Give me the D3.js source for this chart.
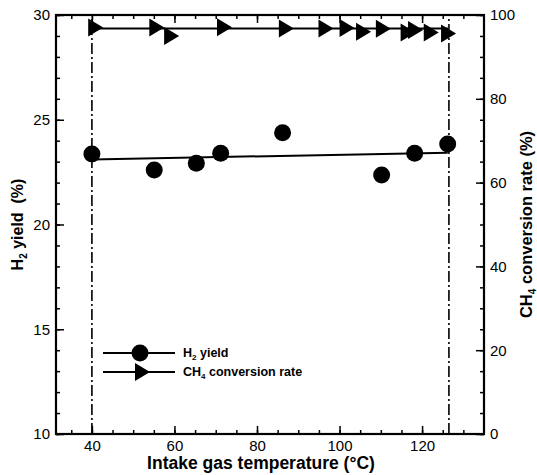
<!DOCTYPE html>
<html>
<head>
<meta charset="utf-8">
<script src="https://cdn.jsdelivr.net/npm/d3@7"></script>
<style>
  body { margin: 0; background: #fff; }
  text { font-family: "Liberation Sans", Arial, sans-serif; fill: #000; }
</style>
</head>
<body>
<div id="chart"></div>
<script>
// data
const h2Temp = [40, 55.1, 65.3, 71.2, 86.2, 110.2, 118.2, 126.2];
const h2Yield = [23.37, 22.6, 22.92, 23.4, 24.38, 22.36, 23.4, 23.84];
const ch4Temp = [40.8, 55.6, 59.2, 72, 87, 96.6, 101.7, 105.7, 110.5, 116.5, 118.3, 122.1, 126.3];
const ch4Conv = [97.0, 97.0, 95.0, 97.1, 96.8, 96.8, 96.9, 96.0, 96.7, 95.8, 96.4, 95.8, 95.6];
const h2FitTemp = [40, 126.2], h2FitVal = [23.1, 23.43];
const ch4FitTemp = [40, 126.3], ch4FitVal = [96.8, 96.8];
const limitTemps = [40, 126.5];
const xTicks = [40, 60, 80, 100, 120];
const yLeftTicks = [10, 15, 20, 25, 30];
const yRightTicks = [0, 20, 40, 60, 80, 100];

const W = 537, H = 475;
const plot = {left: 56, right: 484, top: 15, bottom: 434};

const svg = d3.select('#chart').append('svg')
    .attr('width', W).attr('height', H);

const x = d3.scaleLinear().domain([31.3, 135]).range([plot.left, plot.right]);
const yL = d3.scaleLinear().domain([10, 30]).range([plot.bottom, plot.top]);
const yR = d3.scaleLinear().domain([0, 100]).range([plot.bottom, plot.top]);

function styleAxis(g, labels) {
    g.select('.domain').remove();
    g.selectAll('line').attr('stroke', '#000').attr('stroke-width', 1.5);
    if (!labels) g.selectAll('text').remove();
    else g.selectAll('text').style('font-size', '15px')
        .style('font-family', '"Liberation Sans", Arial, sans-serif');
}

// bottom
svg.append('g').attr('transform', `translate(0,${plot.bottom})`)
    .call(d3.axisBottom(x).tickValues(d3.range(35, 135, 5)).tickSizeInner(-4).tickSizeOuter(0))
    .call(g => styleAxis(g, false));
svg.append('g').attr('transform', `translate(0,${plot.bottom})`)
    .call(d3.axisBottom(x).tickValues(xTicks).tickSizeInner(-8).tickSizeOuter(0).tickPadding(6))
    .call(g => styleAxis(g, true));
// top
svg.append('g').attr('transform', `translate(0,${plot.top})`)
    .call(d3.axisTop(x).tickValues(d3.range(35, 135, 5)).tickSizeInner(-4).tickSizeOuter(0))
    .call(g => styleAxis(g, false));
svg.append('g').attr('transform', `translate(0,${plot.top})`)
    .call(d3.axisTop(x).tickValues(xTicks).tickSizeInner(-8).tickSizeOuter(0))
    .call(g => styleAxis(g, false));
// left
svg.append('g').attr('transform', `translate(${plot.left},0)`)
    .call(d3.axisLeft(yL).tickValues(d3.range(10, 31, 1)).tickSizeInner(-4).tickSizeOuter(0))
    .call(g => styleAxis(g, false));
svg.append('g').attr('transform', `translate(${plot.left},0)`)
    .call(d3.axisLeft(yL).tickValues(yLeftTicks).tickSizeInner(-8).tickSizeOuter(0).tickPadding(6))
    .call(g => styleAxis(g, true));
// right
svg.append('g').attr('transform', `translate(${plot.right},0)`)
    .call(d3.axisRight(yR).tickValues(d3.range(0, 101, 5)).tickSizeInner(-4).tickSizeOuter(0))
    .call(g => styleAxis(g, false));
svg.append('g').attr('transform', `translate(${plot.right},0)`)
    .call(d3.axisRight(yR).tickValues(yRightTicks).tickSizeInner(-8).tickSizeOuter(0).tickPadding(6))
    .call(g => styleAxis(g, true));

// frame
svg.append('rect')
    .attr('x', plot.left).attr('y', plot.top)
    .attr('width', plot.right - plot.left).attr('height', plot.bottom - plot.top)
    .attr('fill', 'none').attr('stroke', '#000').attr('stroke-width', 2.2);

// dash-dot limits
svg.selectAll('.limit').data(limitTemps).enter().append('line')
    .attr('x1', d => x(d)).attr('x2', d => x(d))
    .attr('y1', plot.bottom).attr('y2', plot.top)
    .attr('stroke', '#000').attr('stroke-width', 1.6)
    .attr('stroke-dasharray', '11,3,2,3');

// fit lines
const h2Fit = h2FitTemp.map((t, i) => [t, h2FitVal[i]]);
const ch4Fit = ch4FitTemp.map((t, i) => [t, ch4FitVal[i]]);
svg.append('path').datum(h2Fit)
    .attr('d', d3.line().x(d => x(d[0])).y(d => yL(d[1])))
    .attr('fill', 'none').attr('stroke', '#000').attr('stroke-width', 2);
svg.append('path').datum(ch4Fit)
    .attr('d', d3.line().x(d => x(d[0])).y(d => yR(d[1])))
    .attr('fill', 'none').attr('stroke', '#000').attr('stroke-width', 2);

const tri = 'M-7,-9L8,0L-7,9Z';

// markers
svg.selectAll('.h2').data(h2Temp).enter().append('circle')
    .attr('cx', d => x(d)).attr('cy', (d, i) => yL(h2Yield[i]))
    .attr('r', 8.5).attr('fill', '#000');
svg.selectAll('.ch4').data(ch4Temp).enter().append('path')
    .attr('d', tri)
    .attr('transform', (d, i) => `translate(${x(d)},${yR(ch4Conv[i])})`)
    .attr('fill', '#000');

// legend
const lg = svg.append('g').attr('transform', 'translate(103,353)');
lg.append('line').attr('x1', 0).attr('x2', 72).attr('y1', 0).attr('y2', 0)
    .attr('stroke', '#000').attr('stroke-width', 2);
lg.append('circle').attr('cx', 37).attr('cy', 0).attr('r', 8.5).attr('fill', '#000');
lg.append('line').attr('x1', 0).attr('x2', 72).attr('y1', 19).attr('y2', 19)
    .attr('stroke', '#000').attr('stroke-width', 2);
lg.append('path').attr('d', tri).attr('transform', 'translate(39,19)').attr('fill', '#000');

const l1 = lg.append('text').attr('x', 80).attr('y', 4)
    .style('font-size', '12.5px').style('font-weight', 'bold');
l1.append('tspan').text('H');
l1.append('tspan').text('2').style('font-size', '8px').attr('dy', 3);
l1.append('tspan').text(' yield').attr('dy', -3);
const l2 = lg.append('text').attr('x', 80).attr('y', 23)
    .style('font-size', '12.5px').style('font-weight', 'bold');
l2.append('tspan').text('CH');
l2.append('tspan').text('4').style('font-size', '8px').attr('dy', 3);
l2.append('tspan').text(' conversion rate').attr('dy', -3);

// axis titles
svg.append('text').attr('x', 261).attr('y', 469)
    .attr('text-anchor', 'middle')
    .style('font-size', '17.5px').style('font-weight', 'bold')
    .text('Intake gas temperature (°C)');

const tl = svg.append('text')
    .attr('transform', `translate(23,${(plot.top + plot.bottom) / 2}) rotate(-90)`)
    .attr('text-anchor', 'middle')
    .style('font-size', '16px').style('font-weight', 'bold');
tl.append('tspan').text('H');
tl.append('tspan').text('2').style('font-size', '10px').attr('dy', 4);
tl.append('tspan').text(' yield  (%)').attr('dy', -4).attr('xml:space', 'preserve');

const tr = svg.append('text')
    .attr('transform', `translate(532,${(plot.top + plot.bottom) / 2}) rotate(-90)`)
    .attr('text-anchor', 'middle')
    .style('font-size', '16.5px').style('font-weight', 'bold');
tr.append('tspan').text('CH');
tr.append('tspan').text('4').style('font-size', '10px').attr('dy', 4);
tr.append('tspan').text(' conversion rate (%)').attr('dy', -4);
</script>
</body>
</html>
